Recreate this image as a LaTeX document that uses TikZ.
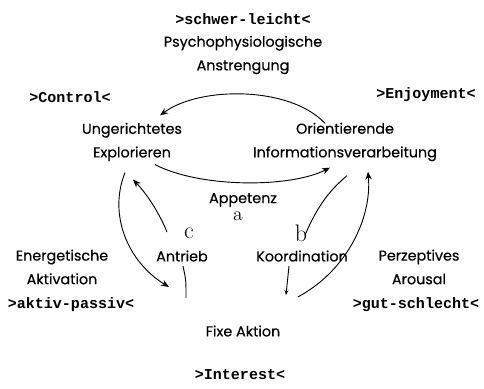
\documentclass[tikz,border=0pt]{standalone}
\usepackage{fontspec}
\setsansfont{Poppins}[FakeBold=0.4]
\setmonofont{Liberation Mono}
\usetikzlibrary{arrows.meta,calc}

\begin{document}
\begin{tikzpicture}[
      x=0.025cm, y=-0.025cm,
      txt/.style={font={\sffamily\fontsize{10.2}{16.8}\selectfont}, align=center, inner sep=0pt},
      pole/.style={font={\ttfamily\bfseries\fontsize{10.7}{14}\selectfont}, inner sep=0pt},
      letter/.style={font={\fontsize{17}{19}\selectfont}, inner sep=0pt},
      >={Stealth[length=2mm,width=1.6mm]},
      line width=0.65pt
    ]
    \useasboundingbox (0,0) rectangle (484,388);
    % poles and labels
    \node[pole] (sl) at (243,19) {>schwer-leicht<};
    \node[txt] (psy) at (243,55) {Psychophysiologische\\Anstrengung};
    \node[pole] (ctrl) at (70,97) {>Control<};
    \node[pole] (enj) at (426,95) {>Enjoyment<};
    \node[txt] (ue) at (132,142) {Ungerichtetes\\Explorieren};
    \node[txt] (oi) at (345,142) {Orientierende\\Informationsverarbeitung};
    \node[txt] (app) at (243,200) {Appetenz};
    \node[letter, font={\fontsize{14}{16}\selectfont}] (la) at (238,216) {a};
    \node[letter] (lc) at (189,233) {c};
    \node[letter] (lb) at (301,233) {b};
    \node[txt] (ant) at (182,256) {Antrieb};
    \node[txt] (koo) at (302,256) {Koordination};
    \node[txt] (ener) at (62,267) {Energetische\\Aktivation};
    \node[pole] (ap) at (71,305) {>aktiv-passiv<};
    \node[txt] (perz) at (419,267) {Perzeptives\\Arousal};
    \node[pole] (gs) at (416,305) {>gut-schlecht<};
    \node[txt] (fixe) at (243,331) {Fixe Aktion};
    \node[pole] (int) at (240,375) {>Interest<};

    % connectors
    \draw[->] ($(oi.north)+(-20,1)$) .. controls (290,86) and (200,86) .. ($(ue.north)+(28,-7)$);
    \draw[->] ($(ue.south)+(23,3)$) .. controls (200,188) and (290,188) .. ($(oi.south)+(-15,6)$);
    \draw[->] ($(ue.south)+(-7,11)$) .. controls (108,215) and (128,262) .. ($(ant.south)+(-13,25)$);
    \draw[->] ($(ant.north)+(-15,-18)$) .. controls (158,210) and (145,192) .. ($(ue.south)+(1,18)$);
    \draw ($(ant.south)+(1,4)$) .. controls (186,280) .. ($(ant.south)+(4,36)$);
    \draw ($(koo.north)+(3,-15)$) .. controls (318,205) and (330,190) .. ($(oi.south)+(2,14)$);
    \draw[-{Stealth[length=1.2mm,width=1mm]}] ($(koo.south)+(-13,4)$) -- ($(koo.south)+(-16,33)$);
    \draw[->] ($(fixe.north east)+(17,-28)$) .. controls (345,272) and (372,220) .. ($(oi.south)+(23,10)$);
\end{tikzpicture}
\end{document}
